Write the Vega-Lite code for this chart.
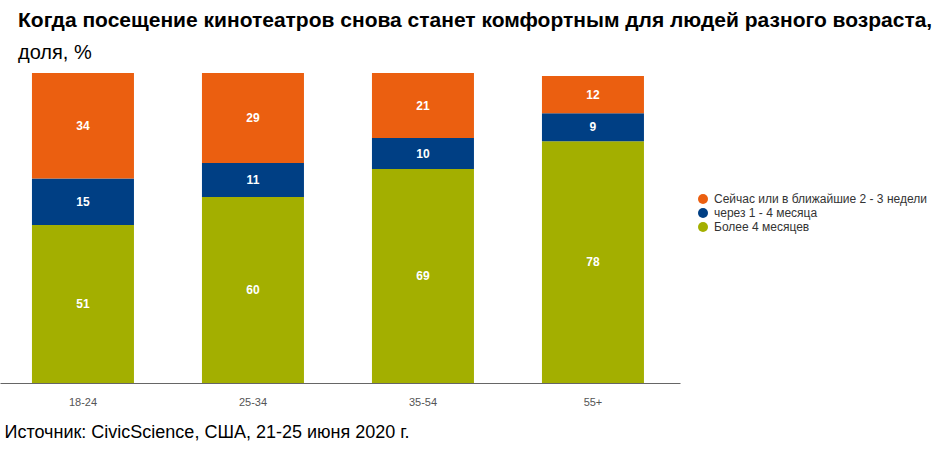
{
  "$schema": "https://vega.github.io/schema/vega-lite/v6.json",
  "width": 680,
  "height": 310,
  "autosize": "none",
  "padding": {"left": 0, "top": 73, "right": 265, "bottom": 68},
  "title": {
    "text": "Когда посещение кинотеатров снова станет комфортным для людей разного возраста,",
    "subtitle": "доля, %",
    "anchor": "start",
    "frame": "group",
    "dx": 18,
    "offset": 10,
    "font": "Liberation Sans",
    "fontSize": 21,
    "fontWeight": "bold",
    "color": "#000000",
    "subtitleFont": "Liberation Sans",
    "subtitleFontSize": 20,
    "subtitleColor": "#000000",
    "subtitlePadding": 12
  },
  "data": {
    "values": [
      {"age": "18-24", "cat": "Более 4 месяцев", "value": 51, "rank": 1},
      {"age": "18-24", "cat": "через 1 - 4 месяца", "value": 15, "rank": 2},
      {"age": "18-24", "cat": "Сейчас или в ближайшие 2 - 3 недели", "value": 34, "rank": 3},
      {"age": "25-34", "cat": "Более 4 месяцев", "value": 60, "rank": 1},
      {"age": "25-34", "cat": "через 1 - 4 месяца", "value": 11, "rank": 2},
      {"age": "25-34", "cat": "Сейчас или в ближайшие 2 - 3 недели", "value": 29, "rank": 3},
      {"age": "35-54", "cat": "Более 4 месяцев", "value": 69, "rank": 1},
      {"age": "35-54", "cat": "через 1 - 4 месяца", "value": 10, "rank": 2},
      {"age": "35-54", "cat": "Сейчас или в ближайшие 2 - 3 недели", "value": 21, "rank": 3},
      {"age": "55+", "cat": "Более 4 месяцев", "value": 78, "rank": 1},
      {"age": "55+", "cat": "через 1 - 4 месяца", "value": 9, "rank": 2},
      {"age": "55+", "cat": "Сейчас или в ближайшие 2 - 3 недели", "value": 12, "rank": 3}
    ]
  },
  "encoding": {
    "x": {
      "field": "age",
      "type": "nominal",
      "sort": null,
      "scale": {"paddingInner": 0.4, "paddingOuter": 0.2, "align": 0.47},
      "axis": {
        "labelAngle": 0,
        "labelFont": "Liberation Sans",
        "labelFontSize": 11,
        "labelColor": "#555555",
        "labelPadding": 13,
        "ticks": false,
        "domainColor": "#666666",
        "title": "Источник: CivicScience, США, 21-25 июня 2020 г.",
        "titleFont": "Liberation Sans",
        "titleFontSize": 18,
        "titleFontWeight": "normal",
        "titleColor": "#000000",
        "titleAnchor": "start",
        "titleAlign": "left",
        "titleBaseline": "alphabetic",
        "titleX": 4,
        "titleY": 54
      }
    }
  },
  "layer": [
    {
      "mark": {"type": "bar"},
      "encoding": {
        "y": {"field": "value", "type": "quantitative", "stack": "zero", "scale": {"domain": [0, 100]}, "axis": null},
        "color": {
          "field": "cat",
          "type": "nominal",
          "scale": {
            "domain": ["Сейчас или в ближайшие 2 - 3 недели", "через 1 - 4 месяца", "Более 4 месяцев"],
            "range": ["#EB5F10", "#003F84", "#A3AF00"]
          },
          "legend": {
            "orient": "none",
            "legendX": 697,
            "legendY": 120,
            "title": null,
            "symbolType": "circle",
            "symbolSize": 100,
            "symbolStrokeWidth": 0,
            "labelFont": "Liberation Sans",
            "labelFontSize": 12,
            "labelColor": "#333333",
            "labelLimit": 400,
            "rowPadding": 2,
            "labelOffset": 5
          }
        },
        "order": {"field": "rank", "type": "quantitative"}
      }
    },
    {
      "mark": {"type": "text", "color": "#ffffff", "fontWeight": "bold", "fontSize": 12, "font": "Liberation Sans", "baseline": "middle"},
      "encoding": {
        "y": {"field": "value", "type": "quantitative", "stack": "zero", "bandPosition": 0.5},
        "detail": {"field": "cat"},
        "order": {"field": "rank", "type": "quantitative"},
        "text": {"field": "value", "type": "quantitative"}
      }
    }
  ],
  "config": {"view": {"stroke": null}}
}
